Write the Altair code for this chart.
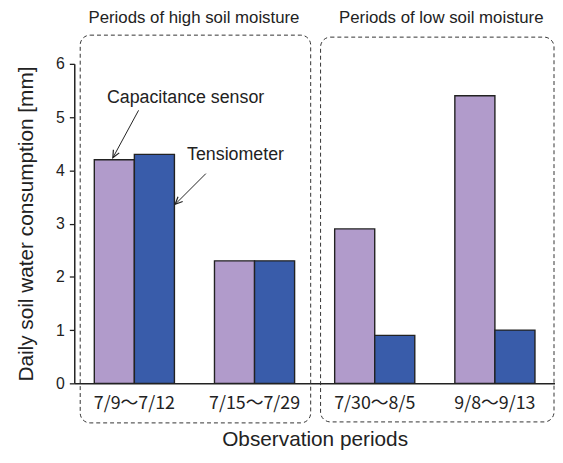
import altair as alt
import pandas as pd

periods = ["7/9〜7/12", "7/15〜7/29", "7/30〜8/5", "9/8〜9/13"]
sensors = ["Capacitance sensor", "Tensiometer"]
capacitance = [4.2, 2.3, 2.9, 5.4]
tensiometer = [4.3, 2.3, 0.9, 1.0]
colors = ["#B19BCB", "#395CAA"]

rows = []
for p, c, t in zip(periods, capacitance, tensiometer):
    rows.append({"period": p, "sensor": sensors[0], "value": c})
    rows.append({"period": p, "sensor": sensors[1], "value": t})
bars_df = pd.DataFrame(rows)

# decorations (pixel positions relative to the plot area)
box_df = pd.DataFrame({"x": [6, 249], "x2": [239, 485], "y": [-29, -27], "y2": [363, 362]})
group_titles = pd.DataFrame({
    "label": ["Periods of high soil moisture", "Periods of low soil moisture"],
    "x": [121, 371], "y": [-46, -46]})
notes = pd.DataFrame({"label": ["Capacitance sensor", "Tensiometer"],
                      "x": [33, 114], "y": [35, 92]})
arrows = pd.DataFrame({"x": [65, 133], "y": [47, 111], "x2": [39, 102], "y2": [95, 142],
                       "angle": [208, 225]})

W, H = 486, 323

bars = alt.Chart(bars_df).mark_bar(stroke="#222222", strokeWidth=1.4).encode(
    x=alt.X("period:N", sort=periods,
            scale=alt.Scale(paddingInner=1/3, paddingOuter=1/6),
            axis=alt.Axis(title="Observation periods", ticks=False, labelAngle=0,
                          labelFont="Noto Sans CJK JP", labelFontSize=18,
                          labelColor="#222222", labelPadding=11,
                          domainColor="#222222", domainWidth=1.5,
                          titleFont="Liberation Sans", titleFontSize=21,
                          titleFontWeight="normal", titleColor="#222222",
                          titleX=W / 2, titleY=57, titleBaseline="middle")),
    xOffset=alt.XOffset("sensor:N", sort=sensors),
    y=alt.Y("value:Q", scale=alt.Scale(domain=[0, 6], nice=False),
            axis=alt.Axis(title="Daily soil water consumption [mm]",
                          values=[i * 0.5 for i in range(13)], format="d",
                          labelExpr="datum.value % 1 === 0 ? format(datum.value, 'd') : ''",
                          tickSize=alt.condition("datum.value % 1 === 0", alt.value(5), alt.value(3)),
                          tickColor="#222222", tickWidth=1.3,
                          domainColor="#222222", domainWidth=1.5,
                          labelFont="Liberation Sans", labelFontSize=16,
                          labelColor="#222222", labelPadding=5, grid=False,
                          titleFont="Liberation Sans", titleFontSize=21,
                          titleFontWeight="normal", titleColor="#222222",
                          titleX=-48, titleY=H / 2, titleBaseline="middle")),
    color=alt.Color("sensor:N", sort=sensors,
                    scale=alt.Scale(domain=sensors, range=colors), legend=None),
)

boxes = alt.Chart(box_df).mark_rect(fill=None, filled=False, stroke="#333333", strokeWidth=1,
                                    strokeDash=[4, 3], cornerRadius=10, clip=False).encode(
    x=alt.X("x:Q", scale=None), x2="x2", y=alt.Y("y:Q", scale=None), y2="y2")

gtitles = alt.Chart(group_titles).mark_text(font="Liberation Sans", fontSize=17,
                                            color="#222222", align="center",
                                            baseline="middle").encode(
    x=alt.X("x:Q", scale=None), y=alt.Y("y:Q", scale=None), text="label")

ntext = alt.Chart(notes).mark_text(font="Liberation Sans", fontSize=18, color="#222222",
                                   align="left", baseline="middle").encode(
    x=alt.X("x:Q", scale=None), y=alt.Y("y:Q", scale=None), text="label")

arrow_lines = alt.Chart(arrows).mark_rule(color="#222222", strokeWidth=1).encode(
    x=alt.X("x:Q", scale=None), y=alt.Y("y:Q", scale=None), x2="x2", y2="y2")

arrow_heads = alt.Chart(arrows).mark_point(shape="M-0.45,1L0,0L0.45,1", filled=False,
                                           stroke="#222222", strokeWidth=1.2, size=220,
                                           opacity=1).encode(
    x=alt.X("x2:Q", scale=None), y=alt.Y("y2:Q", scale=None),
    angle=alt.Angle("angle:Q", scale=None))

chart = alt.layer(bars, boxes, gtitles, ntext, arrow_lines, arrow_heads).properties(
    width=W, height=H,
    autosize=alt.AutoSizeParams(type="none"),
    padding={"left": 67, "top": 54, "right": 0, "bottom": 70},
    background="white",
).configure_view(stroke=None)

chart.save("out.html", embed_options={"renderer": "svg", "actions": False})
